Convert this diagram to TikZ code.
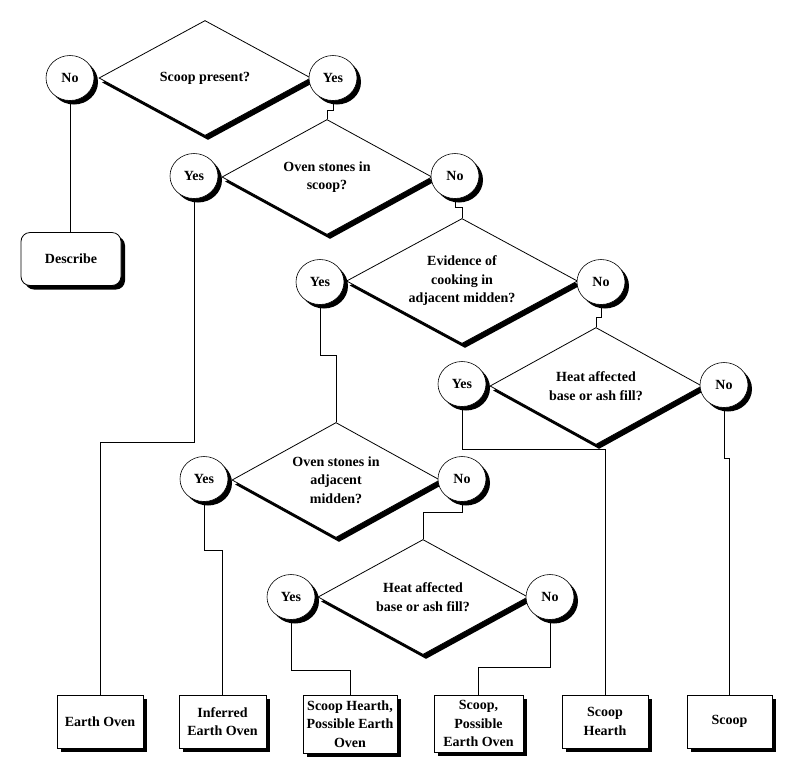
\documentclass[tikz,border=0pt]{standalone}
\usepackage{fontspec}
\setmainfont{Liberation Serif}
\usetikzlibrary{shapes.geometric,shadows}
\begin{document}
\begin{tikzpicture}[x=1pt,y=-1pt,
  every node/.style={font=\fontsize{14}{18.5}\selectfont\bfseries, align=center},
  dshadow/.style={drop shadow={shadow xshift=3pt,shadow yshift=-4.5pt,fill=black,opacity=1}},
  bshadow/.style={drop shadow={shadow xshift=4pt,shadow yshift=-4pt,fill=black,opacity=1}},
  decision/.style={diamond, draw, line width=0.8pt, fill=white, inner sep=0pt, aspect=1.8, dshadow},
  answer/.style={ellipse, draw, line width=0.6pt, fill=white, inner sep=0pt, minimum width=48pt, minimum height=45pt, bshadow},
  result/.style={rectangle, draw, line width=0.8pt, fill=white, inner sep=2pt, minimum height=53pt, bshadow},
  conn/.style={line width=0.8pt}]
\useasboundingbox (0,0) rectangle (800,780);
\fill[white] (0,0) rectangle (800,780);

% decisions
\node[decision, minimum width=212pt, minimum height=115pt] (d1) at (205,78) {Scoop present?};
\node[decision, minimum width=210pt, minimum height=115pt] (d2) at (327,177) {Oven stones in\\scoop?};
\node[decision, minimum width=231pt, minimum height=125pt] (d3) at (462,281) {Evidence of\\cooking in\\adjacent midden?};
\node[decision, minimum width=212pt, minimum height=117pt] (d4) at (596,386) {Heat affected\\base or ash fill?};
\node[decision, minimum width=208pt, minimum height=115pt] (d5) at (336,480) {Oven stones in\\adjacent\\midden?};
\node[decision, minimum width=210pt, minimum height=115pt] (d6) at (423,597) {Heat affected\\base or ash fill?};

% answers
\node[answer] (n1) at (70,78) {No};
\node[answer] (y1) at (333,78) {Yes};
\node[answer] (y2) at (194,176) {Yes};
\node[answer] (n2) at (455,176) {No};
\node[answer] (y3) at (320,282) {Yes};
\node[answer] (n3) at (601,282) {No};
\node[answer] (y4) at (462,384) {Yes};
\node[answer] (n4) at (724,385) {No};
\node[answer] (y5) at (204,479) {Yes};
\node[answer] (n5) at (462,479) {No};
\node[answer] (y6) at (291,597) {Yes};
\node[answer] (n6) at (550,597) {No};

% results
\node[result, rounded corners=9pt, minimum width=100pt] (desc) at (71,259) {Describe};
\node[result, minimum width=86pt] (b1) at (100,721.5) {Earth Oven};
\node[result, minimum width=87pt] (b2) at (222.5,721.5) {Inferred\\Earth Oven};
\node[result, minimum width=94pt, minimum height=58pt] (b3) at (350,724) {Scoop Hearth,\\Possible Earth\\Oven};
\node[result, minimum width=89pt, minimum height=57pt] (b4) at (478.5,723.5) {Scoop,\\Possible\\Earth Oven};
\node[result, minimum width=86pt] (b5) at (605,721.5) {Scoop\\Hearth};
\node[result, minimum width=85pt] (b6) at (729.5,721.5) {Scoop};

% connectors
\draw[conn] (n1.south) -- (n1.south |- desc.north);
\draw[conn] (y1.south) |- (d2.north |- 0,110) -- (d2.north);
\draw[conn] (y2.south) |- (b1.north |- 0,442) -- (b1.north);
\draw[conn] (n2.south) |- (d3.north |- 0,207) -- (d3.north);
\draw[conn] (y3.south) |- (d5.north |- 0,355) -- (d5.north);
\draw[conn] (n3.south) |- (d4.north |- 0,317) -- (d4.north);
\draw[conn] (y4.south) |- (b5.north |- 0,449) -- (b5.north);
\draw[conn] (n4.south) |- (b6.north |- 0,458) -- (b6.north);
\draw[conn] (y5.south) |- (b2.north |- 0,550) -- (b2.north);
\draw[conn] (n5.south) |- (d6.north |- 0,512) -- (d6.north);
\draw[conn] (y6.south) |- (b3.north |- 0,670) -- (b3.north);
\draw[conn] (n6.south) |- (b4.north |- 0,667) -- (b4.north);
\end{tikzpicture}
\end{document}
